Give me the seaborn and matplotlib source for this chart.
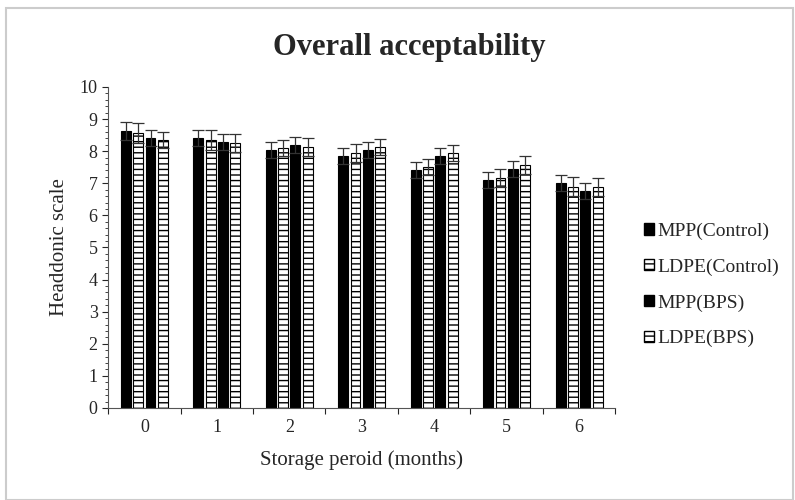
import matplotlib
matplotlib.use('Agg')
import matplotlib.pyplot as plt
import seaborn as sns
import pandas as pd
from matplotlib.patches import Rectangle, Patch
from matplotlib.ticker import MultipleLocator, FixedLocator

months = ['0', '1', '2', '3', '4', '5', '6']
series = ['MPP(Control)', 'LDPE(Control)', 'MPP(BPS)', 'LDPE(BPS)']
mpp_control = [8.62, 8.40, 8.04, 7.85, 7.41, 7.10, 7.02]
ldpe_control = [8.56, 8.35, 8.10, 7.94, 7.50, 7.16, 6.90]
mpp_bps = [8.40, 8.30, 8.19, 8.04, 7.85, 7.44, 6.75]
ldpe_bps = [8.35, 8.25, 8.14, 8.14, 7.93, 7.57, 6.87]
err_mpp_control = [0.28, 0.25, 0.25, 0.25, 0.25, 0.25, 0.25]
err_ldpe_control = [0.32, 0.30, 0.25, 0.28, 0.25, 0.27, 0.30]
err_mpp_bps = [0.25, 0.25, 0.25, 0.25, 0.25, 0.25, 0.25]
err_ldpe_bps = [0.25, 0.28, 0.28, 0.25, 0.25, 0.28, 0.28]

values = [mpp_control, ldpe_control, mpp_bps, ldpe_bps]
errors = [err_mpp_control, err_ldpe_control, err_mpp_bps, err_ldpe_bps]

df = pd.DataFrame({
    'month': months * 4,
    'series': [s for s in series for _ in months],
    'score': [v for vals in values for v in vals],
})

sns.set_style('white')
plt.rcParams['font.family'] = ['Liberation Serif', 'DejaVu Serif']
plt.rcParams['hatch.linewidth'] = 1.0

fig = plt.figure(figsize=(7.95, 5.0), dpi=100)
ax = fig.add_axes([0.136, 0.184, 0.638, 0.642])

sns.barplot(data=df, x='month', y='score', hue='series', order=months,
            hue_order=series, width=0.68, gap=0.2, ax=ax, legend=False,
            palette=['black', 'white', 'black', 'white'], saturation=1)

hatches = ['', '---', '', '---']
for cont, h, errs in zip(ax.containers, hatches, errors):
    for bar, e in zip(cont, errs):
        bar.set_edgecolor('black')
        bar.set_linewidth(0.8)
        bar.set_hatch(h)
        x = bar.get_x() + bar.get_width() / 2
        ax.errorbar(x, bar.get_height(), yerr=e, color='#333333',
                    elinewidth=0.9, capsize=4, capthick=0.9, fmt='none')

ax.set_ylim(0, 10)
ax.set_xlim(-0.5, 6.5)
ax.yaxis.set_major_locator(MultipleLocator(1))
ax.yaxis.set_minor_locator(MultipleLocator(0.2))
ax.xaxis.set_minor_locator(FixedLocator([i - 0.5 for i in range(8)]))
ax.tick_params(axis='x', which='major', length=0, labelsize=13, pad=8)
ax.tick_params(axis='x', which='minor', length=4, width=0.8, direction='out', bottom=True)
ax.tick_params(axis='y', which='major', length=4, width=0.8, labelsize=13, left=True)
ax.tick_params(axis='y', which='minor', length=2, width=0.6, left=True)
for side in ['top', 'right']:
    ax.spines[side].set_visible(False)
for side in ['left', 'bottom']:
    ax.spines[side].set_color('#555555')
    ax.spines[side].set_linewidth(0.8)

ax.set_xlabel('Storage peroid (months)', fontsize=15, labelpad=10)
ax.set_ylabel('Headdonic scale', fontsize=15, labelpad=8)
fig.text(0.515, 0.905, 'Overall acceptability', ha='center', va='center',
         fontsize=22, fontweight='bold')

handles = [Patch(facecolor=c, edgecolor='black', hatch=h)
           for c, h in zip(['black', 'white', 'black', 'white'], hatches)]
fig.legend(handles, series, loc='center left', bbox_to_anchor=(0.788, 0.43),
           frameon=False, fontsize=14, labelspacing=0.95, handlelength=0.5,
           handleheight=0.5, handletextpad=0.2)

fig.patches.append(Rectangle((0.008, 0.0), 0.99, 0.985, transform=fig.transFigure,
                             fill=False, edgecolor='#cccccc', linewidth=1.5))

fig.savefig('out.png', dpi=100)
